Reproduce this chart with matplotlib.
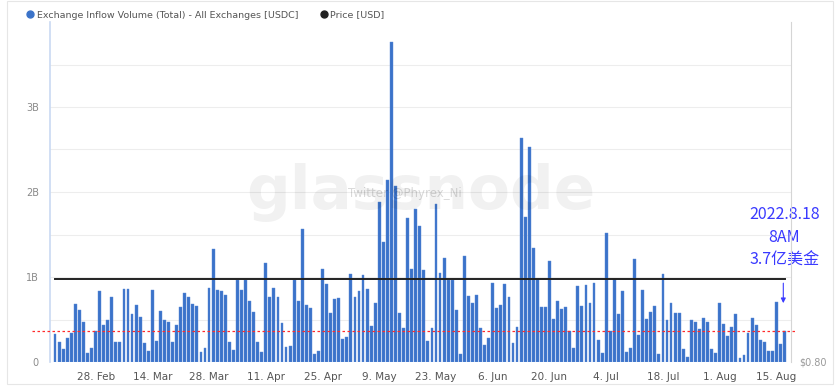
import numpy as np
import matplotlib
matplotlib.use("Agg")
import matplotlib.pyplot as plt
import matplotlib.dates as mdates
from matplotlib.lines import Line2D
from matplotlib.transforms import offset_copy

# daily exchange inflow of USDC (billions), 18 Feb 2022 - 17 Aug 2022
start = np.datetime64("2022-02-18")
inflow_b = [
    0.33, 0.23, 0.15, 0.28, 0.34, 0.68, 0.61, 0.47, 0.11, 0.17,
    0.37, 0.83, 0.43, 0.49, 0.76, 0.23, 0.23, 0.86, 0.86, 0.57,
    0.67, 0.53, 0.22, 0.13, 0.85, 0.25, 0.60, 0.49, 0.47, 0.24,
    0.43, 0.65, 0.81, 0.76, 0.68, 0.66, 0.12, 0.17, 0.87, 1.33,
    0.85, 0.83, 0.79, 0.23, 0.14, 0.97, 0.85, 0.97, 0.72, 0.59,
    0.23, 0.12, 1.16, 0.76, 0.87, 0.77, 0.46, 0.18, 0.19, 0.97,
    0.72, 1.56, 0.67, 0.63, 0.10, 0.13, 1.09, 0.92, 0.58, 0.74,
    0.75, 0.27, 0.29, 1.03, 0.77, 0.83, 1.02, 0.86, 0.42, 0.70,
    1.88, 1.41, 2.14, 3.76, 2.07, 0.58, 0.40, 1.69, 1.10, 1.80,
    1.60, 1.08, 0.25, 0.40, 1.86, 1.05, 1.22, 0.97, 0.97, 0.61,
    0.09, 1.25, 0.78, 0.69, 0.79, 0.40, 0.20, 0.28, 0.93, 0.64,
    0.67, 0.92, 0.76, 0.22, 0.41, 2.64, 1.71, 2.53, 1.34, 0.98,
    0.65, 0.65, 1.19, 0.51, 0.72, 0.62, 0.65, 0.37, 0.16, 0.90,
    0.66, 0.91, 0.69, 0.93, 0.26, 0.11, 1.52, 0.37, 0.98, 0.57,
    0.84, 0.12, 0.16, 1.21, 0.32, 0.85, 0.51, 0.59, 0.66, 0.09,
    1.03, 0.50, 0.70, 0.58, 0.58, 0.15, 0.06, 0.50, 0.47, 0.39,
    0.52, 0.47, 0.15, 0.11, 0.70, 0.45, 0.31, 0.41, 0.56, 0.05,
    0.08, 0.34, 0.52, 0.44, 0.26, 0.24, 0.13, 0.13, 0.71, 0.21,
    0.36,
]
dates = start + np.arange(len(inflow_b))
inflow = np.array(inflow_b) * 1e9
price = [1.0] * len(dates)   # USDC price, flat at $1
threshold = 0.37e9           # 3.7亿 line

tick_dates = ["2022-02-28", "2022-03-14", "2022-03-28", "2022-04-11", "2022-04-25",
              "2022-05-09", "2022-05-23", "2022-06-06", "2022-06-20", "2022-07-04",
              "2022-07-18", "2022-08-01", "2022-08-15"]

grey = "#8a8a8a"
blue = "#3b73c9"

fig = plt.figure(figsize=(8.38, 3.92), dpi=100)
ax = fig.add_axes([50 / 838, 1 - 362 / 392, 741 / 838, 340 / 392])

d = mdates.date2num(dates.astype("datetime64[D]").astype(object))
ax.bar(d, inflow, width=0.7, color=blue, edgecolor="#5a8ad8", linewidth=0.3, zorder=2)
ax.set_xlim(d[0] - 1.25, d[-1] + 1.6)
ax.set_ylim(0, 4e9)

ax.set_yticks(np.arange(0, 4e9, 0.5e9))
ax.set_yticklabels(["0", "", "1B", "", "2B", "", "3B", ""])
ax.grid(axis="y", color="#ededed", linewidth=0.8, zorder=0)
for lab in ax.get_yticklabels():
    lab.set_transform(offset_copy(lab.get_transform(), fig=fig, y=4, units="dots"))
ax.tick_params(axis="y", length=0, pad=8, labelsize=7, labelcolor=grey)

td = [mdates.date2num(np.datetime64(t).astype(object)) for t in tick_dates]
ax.set_xticks(td)
ax.set_xticklabels([f"{np.datetime64(t).astype(object).day}. {np.datetime64(t).astype(object):%b}" for t in tick_dates])
ax.tick_params(axis="x", length=0, pad=7, labelsize=7.5, labelcolor="#555555")

for s in ["top", "right", "bottom"]:
    ax.spines[s].set_visible(False)
ax.spines["left"].set_color("#c9d9f2")
ax.spines["left"].set_linewidth(1.2)

# red threshold line
ax.plot([-0.024, 1.008], [threshold / 4e9] * 2, transform=ax.transAxes, color="#ff2a2a",
        linestyle=(0, (2, 2)), linewidth=0.9, clip_on=False, zorder=4)

# price axis
ax2 = ax.twinx()
ax2.plot(d, price, color="#222222", linewidth=1.4, zorder=3)
ax2.set_ylim(0.80, 1.62)
ax2.set_xlim(ax.get_xlim())
ax2.set_yticks([0.80])
ax2.set_yticklabels(["$0.80"])
for lab in ax2.get_yticklabels():
    lab.set_transform(offset_copy(lab.get_transform(), fig=fig, y=5, units="dots"))
ax2.tick_params(axis="y", length=0, pad=6, labelsize=7, labelcolor="#999999")
for s in ["top", "left", "bottom"]:
    ax2.spines[s].set_visible(False)
ax2.spines["right"].set_color("#d5d5d5")

# watermark
fig.text(421 / 838, 1 - 193 / 392, "glassnode", fontsize=44, fontweight="bold",
         color="#000000", alpha=0.055, ha="center", va="center")
fig.text(405 / 838, 1 - 193 / 392, "Twitter @Phyrex_Ni", fontsize=8.5,
         color="#000000", alpha=0.15, ha="center", va="center")

# annotation
ax.annotate("", xy=(d[-1] - 0.3, 0.66e9), xytext=(d[-1] - 0.3, 0.96e9),
            arrowprops=dict(arrowstyle="-|>", color="#3a3aff", lw=0.8, mutation_scale=7))
ax.text(d[-1], 1.1e9, "2022.8.18\n8AM\n3.7亿美金", color="#3a3aff", fontsize=11.5,
        ha="center", va="bottom", linespacing=1.45,
        family=["Noto Sans CJK SC", "DejaVu Sans"])

# legend
handles = [Line2D([], [], marker="o", linestyle="", color=blue, markersize=5),
           Line2D([], [], marker="o", linestyle="", color="#222222", markersize=5)]
fig.legend(handles, ["Exchange Inflow Volume (Total) - All Exchanges [USDC]", "Price [USD]"],
           loc="center left", bbox_to_anchor=(0.02, 1 - 15 / 392), ncol=2, frameon=False,
           fontsize=6.8, handletextpad=0.2, columnspacing=2.2, labelcolor="#555555",
           handlelength=1.0)

# outer frame
fig.add_artist(plt.Rectangle((7 / 838, 8 / 392), 826 / 838, 383 / 392, fill=False,
                             edgecolor="#e6e6e6", linewidth=0.8, transform=fig.transFigure))

fig.savefig("out.png", dpi=100)
